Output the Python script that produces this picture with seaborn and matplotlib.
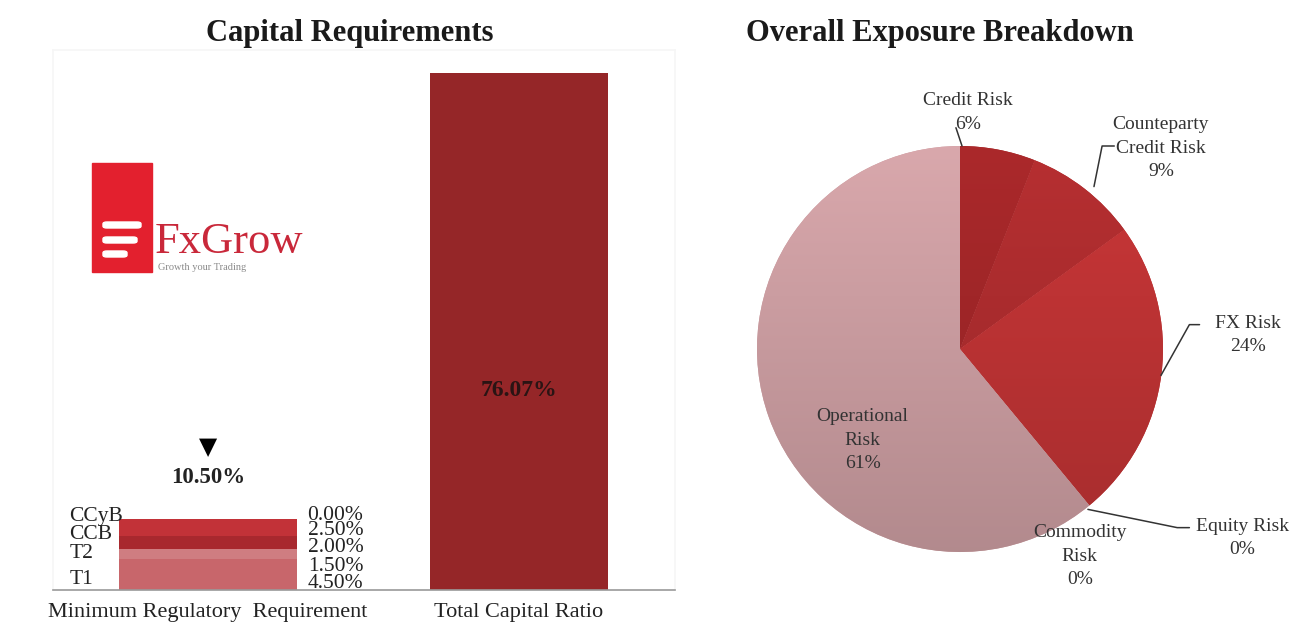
import matplotlib
matplotlib.use("Agg")
import matplotlib.pyplot as plt
import numpy as np
import pandas as pd
import seaborn as sns
from matplotlib.colors import to_rgb
from matplotlib.patches import Rectangle, FancyBboxPatch

# capital requirements
categories = ["Minimum Regulatory  Requirement", "Total Capital Ratio"]
layer_names = ["T1", "AT1", "T2", "CCB", "CCyB"]
layer_values = [4.50, 1.50, 2.00, 2.50, 0.00]
layer_colors = ["#c8666b", "#cf7d81", "#a8282e", "#c23238", "#b02a30"]
side_labels = ["CCyB", "CCB", "T2", "T1"]
side_label_y = [10.8, 8.2, 5.3, 1.6]
value_label_y = [1.0, 3.4, 6.2, 8.8, 10.9]
total_capital = 76.07

# exposure breakdown
pie_labels = ["Credit Risk", "Counteparty\nCredit Risk", "FX Risk", "Equity Risk",
              "Commodity\nRisk", "Operational\nRisk"]
pie_values = [6, 9, 24, 0, 0, 61]
pie_colors = ["#a02628", "#ab2c2e", "#bd3334", "#b03030", "#c04040", "#cb9da1"]

W, H = 1297, 626

sns.set_theme(style="white")
plt.rcParams["font.family"] = ["Liberation Serif", "DejaVu Serif"]


def box(x0, y0, x1, y1):
    return [x0 / W, 1 - y1 / H, (x1 - x0) / W, (y1 - y0) / H]


fig = plt.figure(figsize=(W / 100, H / 100), dpi=100)

# ---- left: stacked requirement bar + total ratio
ax = fig.add_axes(box(52.5, 50, 674.5, 590))
cum = np.cumsum(layer_values)
# draw tallest first so smaller cumulative bars sit on top
for i in range(len(cum) - 1, -1, -1):
    sns.barplot(x=[categories[0]], y=[cum[i]], order=categories, color=layer_colors[i],
                saturation=1, width=0.57, ax=ax, linewidth=0)
sns.barplot(x=[categories[1]], y=[total_capital], order=categories, color="#952628",
            saturation=1, width=0.57, ax=ax, linewidth=0)
ax.set_xlim(-0.5, 1.5)
ax.set_ylim(0, 79.5)
ax.set_xlabel("")
ax.set_ylabel("")
ax.set_yticks([])
ax.tick_params(axis="x", length=0, pad=9, labelsize=16, colors="#222222")
for s in ["left", "top", "right"]:
    ax.spines[s].set_color("#f6f6f6")
ax.spines["bottom"].set_color("#9a9a9a")
ax.spines["bottom"].set_linewidth(1.2)

for lab, y in zip(side_labels, side_label_y):
    ax.text(-0.445, y, lab, ha="left", va="center", fontsize=15.5, color="#222222")
for v, y in zip(layer_values, value_label_y):
    ax.text(0.41, y, f"{v:.2f}%", ha="center", va="center", fontsize=15.5, color="#222222")

ax.text(0, 21.0, "\u25BC", ha="center", va="center", fontsize=17, color="black",
        family=["DejaVu Sans"])
ax.text(0, 16.6, f"{cum[-1]:.2f}%", ha="center", va="center", fontsize=16.5,
        fontweight="bold", color="#222222")
ax.text(1, 29.4, f"{total_capital:.2f}%", ha="center", va="center", fontsize=17,
        fontweight="bold", color="#2a1414")

fig.text(350 / W, 1 - 33 / H, "Capital Requirements", ha="center", va="center",
         fontsize=22, fontweight="bold", color="#1a1a1a")

# logo
fig.patches.append(Rectangle((92 / W, 1 - 272 / H), 60 / W, 109 / H,
                             transform=fig.transFigure, color="#e3202e"))
for y, x1 in [(225, 141), (240, 137), (254, 127)]:
    fig.patches.append(FancyBboxPatch((103 / W, 1 - (y + 3) / H), (x1 - 103) / W, 6 / H,
                                      boxstyle="round,pad=0,rounding_size=0.003",
                                      transform=fig.transFigure, color="white"))
fig.text(155 / W, 1 - 253 / H, "FxGrow", ha="left", va="baseline", fontsize=32,
         color="#c9283a")
fig.text(158 / W, 1 - 270 / H, "Growth your Trading", ha="left", va="baseline",
         fontsize=7.5, color="#8a8a8a")

# ---- right: pie
pax = fig.add_axes(box(757, 146, 1163, 552))
wedges, _ = pax.pie(pie_values, colors=pie_colors, startangle=90, counterclock=False,
                    wedgeprops=dict(linewidth=0))
# soft vertical shading inside each wedge
ramp = np.linspace(1.07, 0.88, 256)[:, None, None]
for w, c in zip(wedges, pie_colors):
    img = np.clip(np.array(to_rgb(c))[None, None, :] * ramp, 0, 1)
    img = np.repeat(img, 2, axis=1)
    im = pax.imshow(img, extent=(-1, 1, -1, 1), aspect="auto", zorder=w.get_zorder() + 0.1)
    im.set_clip_path(w)
pax.set_xlim(-1, 1)
pax.set_ylim(-1, 1)
pax.set_aspect("equal")
pax.axis("off")

label_pos = [(0.04, 1.165), (0.99, 0.99), (1.42, 0.07), (1.39, -0.93), (0.59, -1.02),
             (-0.48, -0.45)]
for name, v, (x, y) in zip(pie_labels, pie_values, label_pos):
    pax.text(x, y, f"{name}\n{v}%", ha="center", va="center", fontsize=14,
             color="#333333", linespacing=1.5, clip_on=False, zorder=5)

leaders = [
    [(-0.02, 1.09), (0.01, 1.0)],
    [(0.76, 1.0), (0.70, 1.0), (0.66, 0.80)],
    [(1.18, 0.12), (1.13, 0.12), (0.99, -0.13)],
    [(0.63, -0.79), (1.07, -0.88), (1.13, -0.88)],
]
for pts in leaders:
    xs, ys = zip(*pts)
    pax.plot(xs, ys, color="#333333", lw=1.1, clip_on=False, zorder=5)

fig.text(940 / W, 1 - 33 / H, "Overall Exposure Breakdown", ha="center", va="center",
         fontsize=22, fontweight="bold", color="#1a1a1a")

fig.savefig("out.png", dpi=100, facecolor="white")
